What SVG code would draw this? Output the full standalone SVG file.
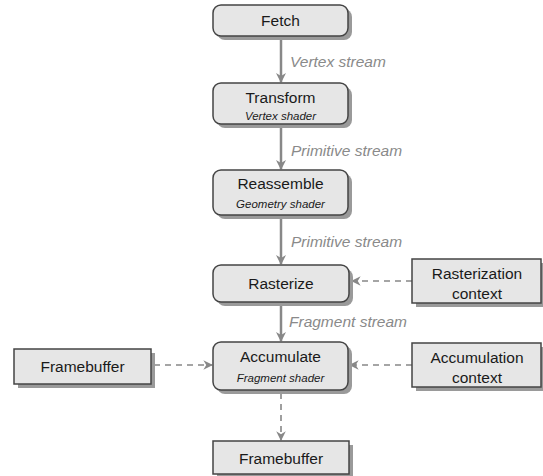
<svg xmlns="http://www.w3.org/2000/svg" width="543" height="476" viewBox="0 0 543 476">
<defs>
<style>
.box{fill:#e6e6e6;stroke:#444;stroke-width:1.5}
.sh{fill:#9a9a9a}
.t{font-family:"Liberation Sans",Arial,sans-serif;font-size:15.5px;fill:#1a1a1a;text-anchor:middle;dominant-baseline:central}
.s{font-family:"Liberation Sans",Arial,sans-serif;font-size:11.5px;font-style:italic;fill:#1a1a1a;text-anchor:middle;dominant-baseline:central}
.lbl{font-family:"Liberation Sans",Arial,sans-serif;font-size:15.5px;font-style:italic;fill:#8a8a8a}
.solid{stroke:#888;stroke-width:2.5;fill:none}
.dash{stroke:#888;stroke-width:1.6;fill:none;stroke-dasharray:6 5}
</style>
<marker id="ah" viewBox="0 0 10 10" refX="9" refY="5" markerWidth="4" markerHeight="4" orient="auto" markerUnits="strokeWidth">
<path d="M0,0 L10,5 L0,10 L3,5 z" fill="#888"/>
</marker>
<marker id="ahd" viewBox="0 0 10 10" refX="9" refY="5" markerWidth="6" markerHeight="6" orient="auto" markerUnits="strokeWidth">
<path d="M0,0 L10,5 L0,10 L3,5 z" fill="#888"/>
</marker>
</defs>
<rect width="543" height="476" fill="#fff"/>
<g id="connectors">
<line class="solid" x1="281" y1="37" x2="281" y2="82" marker-end="url(#ah)"/>
<line class="solid" x1="281" y1="125" x2="281" y2="169" marker-end="url(#ah)"/>
<line class="solid" x1="281" y1="216" x2="281" y2="264" marker-end="url(#ah)"/>
<line class="solid" x1="281" y1="303" x2="281" y2="341" marker-end="url(#ah)"/>
<line class="dash" x1="412" y1="281" x2="352" y2="281" marker-end="url(#ahd)"/>
<line class="dash" x1="154" y1="365" x2="212" y2="365" marker-end="url(#ahd)"/>
<line class="dash" x1="412" y1="365" x2="350" y2="365" marker-end="url(#ahd)"/>
<line class="dash" x1="281" y1="393" x2="281" y2="440" marker-end="url(#ahd)"/>
<text class="lbl" x="290" y="67">Vertex stream</text>
<text class="lbl" x="291" y="156">Primitive stream</text>
<text class="lbl" x="291" y="247">Primitive stream</text>
<text class="lbl" x="289" y="327">Fragment stream</text>
</g>
<g id="fetch">
<rect class="sh" x="217" y="9" width="135" height="31" rx="8"/>
<rect class="box" x="213" y="5" width="135" height="31" rx="8"/>
<text class="t" x="280.5" y="20.5">Fetch</text>
</g>
<g id="transform">
<rect class="sh" x="217" y="87" width="135" height="41" rx="8"/>
<rect class="box" x="213" y="83" width="135" height="41" rx="8"/>
<text class="t" x="280.5" y="97">Transform</text>
<text class="s" x="280.5" y="116">Vertex shader</text>
</g>
<g id="reassemble">
<rect class="sh" x="217" y="174" width="135" height="45" rx="8"/>
<rect class="box" x="213" y="170" width="135" height="45" rx="8"/>
<text class="t" x="280.5" y="183">Reassemble</text>
<text class="s" x="280.5" y="204">Geometry shader</text>
</g>
<g id="rasterize">
<rect class="sh" x="217" y="269" width="136" height="37" rx="8"/>
<rect class="box" x="213" y="265" width="136" height="37" rx="8"/>
<text class="t" x="281" y="283.5">Rasterize</text>
</g>
<g id="rasterization-context">
<rect class="sh" x="416" y="263" width="129" height="44"/>
<rect class="box" x="412" y="259" width="129" height="44"/>
<text class="t" x="477" y="273">Rasterization</text>
<text class="t" x="477" y="293">context</text>
</g>
<g id="accumulate">
<rect class="sh" x="217" y="346" width="135" height="48" rx="8"/>
<rect class="box" x="213" y="342" width="135" height="48" rx="8"/>
<text class="t" x="280.5" y="356">Accumulate</text>
<text class="s" x="280.5" y="378">Fragment shader</text>
</g>
<g id="framebuffer-in">
<rect class="sh" x="18" y="353" width="137" height="35"/>
<rect class="box" x="14" y="349" width="137" height="35"/>
<text class="t" x="82.5" y="366.5">Framebuffer</text>
</g>
<g id="accumulation-context">
<rect class="sh" x="416" y="347" width="129" height="44"/>
<rect class="box" x="412" y="343" width="129" height="44"/>
<text class="t" x="477" y="357">Accumulation</text>
<text class="t" x="477" y="377">context</text>
</g>
<g id="framebuffer-out">
<rect class="sh" x="217" y="445" width="136" height="33"/>
<rect class="box" x="213" y="441" width="136" height="33"/>
<text class="t" x="281" y="458.5">Framebuffer</text>
</g>
</svg>
